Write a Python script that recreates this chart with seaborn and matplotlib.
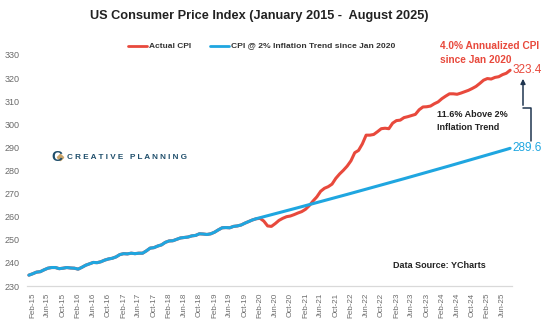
import numpy as np
import pandas as pd
import matplotlib
matplotlib.use("Agg")
import matplotlib.pyplot as plt
import seaborn as sns
from matplotlib.patches import FancyArrowPatch

# Monthly CPI-U (seasonally adjusted), Jan 2015 .. Aug 2025
actual_cpi = [
    234.7, 235.3, 236.0, 236.2, 237.0, 237.7, 238.0, 238.0, 237.5, 237.7, 238.0, 237.8,
    237.7, 237.3, 238.1, 239.0, 239.6, 240.2, 240.1, 240.5, 241.2, 241.7, 242.0, 242.6,
    243.6, 244.0, 243.9, 244.2, 244.0, 244.2, 244.2, 245.2, 246.4, 246.6, 247.3, 247.8,
    248.9, 249.5, 249.6, 250.2, 250.8, 251.0, 251.2, 251.7, 251.9, 252.6, 252.5, 252.3,
    252.6, 253.3, 254.3, 255.2, 255.3, 255.2, 255.8, 256.0, 256.4, 257.2, 257.9, 258.6,
    259.1, 259.3, 258.1, 256.0, 255.8, 257.0, 258.4, 259.3, 260.0, 260.3, 260.9, 261.6,
    262.2, 263.2, 264.8, 266.8, 268.6, 271.0, 272.3, 273.0, 274.1, 276.6, 278.5, 280.1,
    281.9, 284.2, 287.7, 288.7, 291.5, 295.3, 295.3, 295.6, 296.8, 298.1, 298.3, 298.1,
    300.5, 301.6, 301.8, 302.9, 303.3, 303.8, 304.3, 306.3, 307.5, 307.6, 307.9, 308.9,
    309.7, 311.1, 312.2, 313.2, 313.2, 313.0, 313.5, 314.1, 314.7, 315.5, 316.4, 317.7,
    319.1, 319.8, 319.6, 320.3, 320.6, 321.5, 322.1, 323.4,
]

# 2% annual trend path starting Jan 2020, Jan 2020 .. Aug 2025
trend_cpi = [
    259.13, 259.56, 259.99, 260.42, 260.86, 261.29, 261.72, 262.16, 262.59, 263.03, 263.47, 263.90,
    264.34, 264.78, 265.22, 265.66, 266.10, 266.54, 266.99, 267.43, 267.87, 268.32, 268.76, 269.21,
    269.66, 270.11, 270.56, 271.01, 271.46, 271.91, 272.36, 272.81, 273.26, 273.72, 274.17, 274.63,
    275.08, 275.54, 275.99, 276.45, 276.91, 277.37, 277.83, 278.29, 278.76, 279.22, 279.68, 280.15,
    280.61, 281.08, 281.54, 282.01, 282.48, 282.95, 283.42, 283.89, 284.36, 284.83, 285.31, 285.78,
    286.25, 286.73, 287.20, 287.68, 288.16, 288.64, 289.11, 289.60,
]

months = pd.date_range("2015-01-01", "2025-08-01", freq="MS")
month_labels = [d.strftime("%b-%y") for d in months]
trend_start = 60  # Jan 2020

y_ticks = [230, 240, 250, 260, 270, 280, 290, 300, 310, 320, 330]

RED = "#e8493c"
BLUE = "#1fa6e0"
NAVY = "#1f3550"
GREY = "#6b6b6b"

idx = np.arange(len(months))
blue_series = actual_cpi[:trend_start] + trend_cpi
df = pd.DataFrame({
    "i": np.concatenate([idx, idx]),
    "cpi": actual_cpi + blue_series,
    "series": ["Actual CPI"] * len(idx) + ["CPI @ 2% Inflation Trend since Jan 2020"] * len(idx),
})

sns.set_theme(style="white")
plt.rcParams["font.family"] = ["Liberation Sans", "DejaVu Sans"]

W, H = 550, 323
fig = plt.figure(figsize=(W / 100, H / 100), dpi=100)
ax = fig.add_axes([27 / W, 1 - 286 / H, (512 - 27) / W, (286 - 55) / H])

sns.lineplot(data=df, x="i", y="cpi", hue="series",
             palette={"Actual CPI": RED, "CPI @ 2% Inflation Trend since Jan 2020": BLUE},
             linewidth=2.2, ax=ax, legend=False, sort=False)

ax.set_xlim(-0.5, len(months) - 0.5)
ax.set_ylim(230, 330)
ax.set_yticks(y_ticks)
ax.set_yticklabels([str(v) for v in y_ticks], fontsize=6.5, color=GREY)
tick_pos = list(range(1, len(months), 4))
ax.set_xticks(tick_pos)
ax.set_xticklabels([month_labels[i] for i in tick_pos], rotation=90, fontsize=5.8, color=GREY)
ax.tick_params(axis="both", length=0)
ax.tick_params(axis="y", pad=5)
ax.tick_params(axis="x", pad=5)
ax.set_xlabel("")
ax.set_ylabel("")
for side in ["top", "right", "left"]:
    ax.spines[side].set_visible(False)
ax.spines["bottom"].set_color("#d9d9d9")
ax.spines["bottom"].set_linewidth(0.9)


def px(x, y):
    return x / W, 1 - y / H


# Title
fig.text(*px(259, 16), "US Consumer Price Index (January 2015 -  August 2025)",
         ha="center", va="center", fontsize=9.2, fontweight="bold", color="#222222")

# Legend
fig.add_artist(plt.Line2D([128 / W, 147 / W], [1 - 46 / H] * 2, color=RED, lw=2))
fig.text(*px(149, 46), "Actual CPI", ha="left", va="center", fontsize=6.0,
         fontweight="bold", color="#333333")
fig.add_artist(plt.Line2D([210 / W, 229 / W], [1 - 46 / H] * 2, color=BLUE, lw=2))
fig.text(*px(231, 46), "CPI @ 2% Inflation Trend since Jan 2020", ha="left", va="center",
         fontsize=6.1, fontweight="bold", color="#333333")

# Annotations
fig.text(*px(440, 46), "4.0% Annualized CPI", ha="left", va="center", fontsize=7.3,
         fontweight="bold", color=RED)
fig.text(*px(440, 60), "since Jan 2020", ha="left", va="center", fontsize=7.3,
         fontweight="bold", color=RED)
ax.text(len(months) - 0.3, actual_cpi[-1], f"{actual_cpi[-1]:.1f}", ha="left", va="center",
        fontsize=8.5, color=RED, clip_on=False)
ax.text(len(months) - 0.3, trend_cpi[-1], f"{trend_cpi[-1]:.1f}", ha="left", va="center",
        fontsize=8.5, color=BLUE, clip_on=False)

fig.text(*px(437, 114), "11.6% Above 2%", ha="left", va="center", fontsize=6.5,
         fontweight="bold", color="#222222")
fig.text(*px(437, 127), "Inflation Trend", ha="left", va="center", fontsize=6.5,
         fontweight="bold", color="#222222")

# Elbow arrow from trend label up to actual label
fig.add_artist(plt.Line2D([531 / W, 531 / W, 523 / W], [1 - 141 / H, 1 - 108 / H, 1 - 108 / H],
                          color=NAVY, lw=1.1))
fig.add_artist(FancyArrowPatch(px(523, 108), px(523, 76), transform=fig.transFigure,
                               arrowstyle="-|>", mutation_scale=7, color=NAVY, lw=1.1))

fig.text(*px(393, 265), "Data Source: YCharts", ha="left", va="center", fontsize=6.5,
         fontweight="bold", color="#222222")

# Brand mark
fig.text(*px(57, 157), "C", ha="center", va="center", fontsize=11, fontweight="bold",
         color="#1f4e6b")
fig.add_artist(plt.Line2D([59.5 / W], [1 - 157 / H], marker="D", markersize=3.2,
                          color="#c9a46a", lw=0))
fig.text(*px(67, 157), "C R E A T I V E   P L A N N I N G", ha="left", va="center",
         fontsize=5.9, fontweight="bold", color="#1f4e6b")

fig.savefig("out.png", dpi=100)
